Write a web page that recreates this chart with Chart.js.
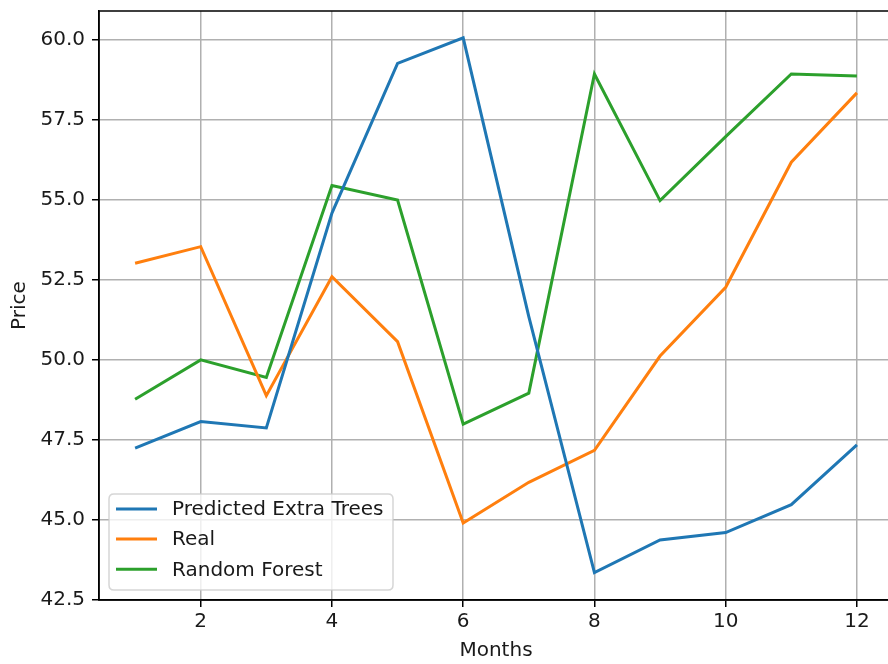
<!DOCTYPE html>
<html>
<head>
<meta charset="utf-8">
<script src="https://cdn.jsdelivr.net/npm/chart.js@4/dist/chart.umd.min.js"></script>
<style>
  html, body { margin: 0; padding: 0; background: #fff; overflow: hidden; width: 888px; height: 664px; }
  #wrap { position: absolute; left: 0; top: 0; width: 900px; height: 664px; }
</style>
</head>
<body>
<div id="wrap"><canvas id="c" width="900" height="664"></canvas></div>
<script>
const months = [1, 2, 3, 4, 5, 6, 7, 8, 9, 10, 11, 12];
const extraTrees = [47.24, 48.07, 47.87, 54.59, 59.27, 60.07, 51.35, 43.35, 44.37, 44.60, 45.47, 47.34];
const real = [53.02, 53.54, 48.88, 52.60, 50.57, 44.90, 46.17, 47.17, 50.12, 52.27, 56.18, 58.35];
const randomForest = [48.77, 50.00, 49.45, 55.45, 55.00, 47.99, 48.96, 58.94, 54.98, 56.98, 58.94, 58.88];
const xTicks = [2, 4, 6, 8, 10, 12];
const yTicks = [42.5, 45.0, 47.5, 50.0, 52.5, 55.0, 57.5, 60.0];
const seriesNames = ['Predicted Extra Trees', 'Real', 'Random Forest'];
const seriesColors = ['#1f77b4', '#ff7f0e', '#2ca02c'];

const FONT = 'DejaVu Sans';
const FS = 20;
const TXT = '#1a1a1a';

function pts(arr) { return months.map((m, i) => ({ x: m, y: arr[i] })); }

const legendPlugin = {
  id: 'mplLegend',
  afterDraw(chart) {
    const ctx = chart.ctx;
    ctx.save();
    const a = chart.chartArea;
    ctx.strokeStyle = '#000';
    ctx.lineWidth = 1.5;
    ctx.strokeRect(a.left, a.top, a.right - a.left, a.bottom - a.top);
    const bx = 109, by = 494, bw = 284, bh = 96, r = 5;
    ctx.beginPath();
    ctx.moveTo(bx + r, by);
    ctx.lineTo(bx + bw - r, by);
    ctx.quadraticCurveTo(bx + bw, by, bx + bw, by + r);
    ctx.lineTo(bx + bw, by + bh - r);
    ctx.quadraticCurveTo(bx + bw, by + bh, bx + bw - r, by + bh);
    ctx.lineTo(bx + r, by + bh);
    ctx.quadraticCurveTo(bx, by + bh, bx, by + bh - r);
    ctx.lineTo(bx, by + r);
    ctx.quadraticCurveTo(bx, by, bx + r, by);
    ctx.closePath();
    ctx.fillStyle = 'rgba(255,255,255,0.8)';
    ctx.fill();
    ctx.strokeStyle = 'rgba(204,204,204,0.8)';
    ctx.lineWidth = 1.5;
    ctx.stroke();
    const rows = [509, 539, 569.3];
    chart.data.datasets.forEach((ds, i) => {
      ctx.beginPath();
      ctx.strokeStyle = ds.borderColor;
      ctx.lineWidth = 3;
      ctx.moveTo(116, rows[i]);
      ctx.lineTo(157, rows[i]);
      ctx.stroke();
      ctx.fillStyle = TXT;
      ctx.font = FS + 'px "' + FONT + '"';
      ctx.textBaseline = 'middle';
      ctx.textAlign = 'left';
      ctx.fillText(ds.label, 172, rows[i] + 1);
    });
    ctx.restore();
  }
};

new Chart(document.getElementById('c'), {
  type: 'line',
  data: {
    datasets: [
      { label: seriesNames[0], data: pts(extraTrees), borderColor: seriesColors[0] },
      { label: seriesNames[1], data: pts(real), borderColor: seriesColors[1] },
      { label: seriesNames[2], data: pts(randomForest), borderColor: seriesColors[2] }
    ].map(d => Object.assign(d, { borderWidth: 3, pointRadius: 0, tension: 0, fill: false, borderCapStyle: 'butt' }))
  },
  options: {
    responsive: false,
    animation: false,
    devicePixelRatio: 1,
    layout: { padding: { top: 11, right: 7, left: 0, bottom: 0 } },
    plugins: { legend: { display: false }, tooltip: { enabled: false } },
    scales: {
      x: {
        type: 'linear',
        min: 0.45,
        max: 12.55,
        afterBuildTicks: s => { s.ticks = xTicks.map(v => ({ value: v })); },
        afterFit: s => { s.height = 64; s.paddingLeft = 0; s.paddingRight = 0; },
        ticks: { color: TXT, font: { family: FONT, size: FS }, padding: 3, maxRotation: 0, autoSkip: false, callback: v => String(v) },
        grid: { color: '#b0b0b0', lineWidth: 1.5, drawTicks: true, tickLength: 7, tickColor: '#000', tickWidth: 1.5 },
        border: { display: true, color: '#000', width: 1.5 },
        title: { display: true, text: 'Months', color: TXT, font: { family: FONT, size: FS }, padding: { top: 0, bottom: 1 } }
      },
      y: {
        type: 'linear',
        min: 42.49,
        max: 60.91,
        afterBuildTicks: s => { s.ticks = yTicks.map(v => ({ value: v })); },
        afterFit: s => { s.width = 99; s.paddingTop = 0; s.paddingBottom = 0; },
        ticks: { color: TXT, font: { family: FONT, size: FS }, padding: 7, autoSkip: false, callback: v => Number(v).toFixed(1) },
        grid: { color: '#b0b0b0', lineWidth: 1.5, drawTicks: true, tickLength: 7, tickColor: '#000', tickWidth: 1.5 },
        border: { display: true, color: '#000', width: 1.5 },
        title: { display: true, text: 'Price', color: TXT, font: { family: FONT, size: FS }, padding: { top: 8, bottom: 0 } }
      }
    }
  },
  plugins: [legendPlugin]
});
</script>
</body>
</html>
